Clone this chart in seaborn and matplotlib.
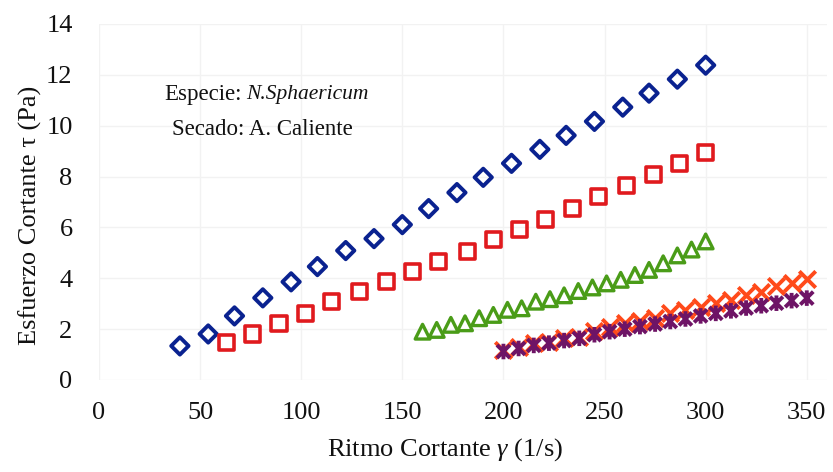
import matplotlib
matplotlib.use("Agg")
import matplotlib.pyplot as plt
from matplotlib.path import Path
import pandas as pd
import seaborn as sns

# Shear rate (1/s) and shear stress (Pa) for each measured run
rate_diamond = [40, 54, 67, 81, 95, 108, 122, 136, 150, 163, 177, 190, 204, 218,
                231, 245, 259, 272, 286, 300]
stress_diamond = [1.34, 1.81, 2.52, 3.23, 3.86, 4.46, 5.09, 5.56, 6.11, 6.74, 7.37,
                  7.97, 8.52, 9.07, 9.62, 10.17, 10.73, 11.28, 11.83, 12.38]

rate_square = [63, 76, 89, 102, 115, 129, 142, 155, 168, 182, 195, 208, 221, 234,
               247, 261, 274, 287, 300]
stress_square = [1.46, 1.81, 2.21, 2.60, 3.08, 3.47, 3.86, 4.26, 4.65, 5.05, 5.52,
                 5.91, 6.31, 6.74, 7.22, 7.65, 8.08, 8.52, 8.95]

rate_triangle = [160, 167, 174, 181, 188, 195, 202, 209, 216, 223, 230, 237, 244,
                 251, 258, 265, 272, 279, 286, 293, 300]
stress_triangle = [1.90, 1.97, 2.17, 2.23, 2.43, 2.56, 2.76, 2.82, 3.08, 3.18, 3.33,
                   3.50, 3.64, 3.80, 3.94, 4.13, 4.33, 4.59, 4.90, 5.13, 5.45]

rate_cross = [200, 207.5, 215, 222.5, 230, 237.5, 245, 252.5, 260, 267.5, 275,
              282.5, 290, 297.5, 305, 312.5, 320, 327.5, 335, 342.5, 350]
stress_cross = [1.18, 1.31, 1.45, 1.51, 1.65, 1.71, 1.91, 2.10, 2.24, 2.31, 2.45,
                2.62, 2.76, 2.89, 3.02, 3.15, 3.35, 3.48, 3.68, 3.81, 3.96]

rate_star = [200, 207.5, 215, 222.5, 230, 237.5, 245, 252.5, 260, 267.5, 275,
             282.5, 290, 297.5, 305, 312.5, 320, 327.5, 335, 342.5, 350]
stress_star = [1.12, 1.24, 1.36, 1.45, 1.55, 1.64, 1.78, 1.90, 2.00, 2.10, 2.20,
               2.30, 2.40, 2.52, 2.62, 2.72, 2.83, 2.92, 3.02, 3.12, 3.22]

x_ticks = [0, 50, 100, 150, 200, 250, 300, 350]
y_ticks = [0, 2, 4, 6, 8, 10, 12, 14]

# Excel-style star: an X crossed by a vertical bar
star_marker = Path(
    [(-1, -1), (1, 1), (-1, 1), (1, -1), (0, -1.2), (0, 1.2)],
    [Path.MOVETO, Path.LINETO, Path.MOVETO, Path.LINETO, Path.MOVETO, Path.LINETO],
)

series = [
    ("diamond", rate_diamond, stress_diamond, "D", "#0a2290", 78, 2.8, True),
    ("square", rate_square, stress_square, "s", "#e01a1e", 118, 2.6, True),
    ("triangle", rate_triangle, stress_triangle, "^", "#4a9c18", 112, 2.4, True),
    ("cross", rate_cross, stress_cross, "x", "#ff4a1a", 140, 2.8, False),
    ("star", rate_star, stress_star, star_marker, "#6e1466", 125, 2.8, True),
]

sns.set_style("white")
plt.rcParams["font.family"] = ["Liberation Serif", "DejaVu Serif"]
plt.rcParams["mathtext.fontset"] = "custom"
plt.rcParams["mathtext.rm"] = "Liberation Serif"
plt.rcParams["mathtext.it"] = "Liberation Serif:italic"

fig = plt.figure(figsize=(8.33, 4.72), dpi=100)
ax = fig.add_axes([99 / 833, 92 / 472, 728 / 833, 356 / 472])

frames = []
for name, xs, ys, *_ in series:
    frames.append(pd.DataFrame({"run": name, "rate": xs, "stress": ys}))
df = pd.concat(frames, ignore_index=True)

for name, _, _, marker, color, size, lw, hollow in series:
    sub = df[df["run"] == name]
    if hollow:
        sns.scatterplot(data=sub, x="rate", y="stress", ax=ax, marker=marker, s=size,
                        facecolors="none", edgecolor=color, linewidth=lw,
                        legend=False, zorder=3)
    else:
        sns.scatterplot(data=sub, x="rate", y="stress", ax=ax, marker=marker, s=size,
                        color=color, linewidth=lw, legend=False, zorder=3)

ax.set_xlim(0, 360)
ax.set_ylim(0, 14)
ax.set_xticks(x_ticks)
ax.set_yticks(y_ticks)
ax.grid(True, color="#f2f2f2", linewidth=1)
for side in ax.spines.values():
    side.set_visible(False)
ax.tick_params(axis="both", length=0, labelsize=19, colors="#111111")
ax.tick_params(axis="x", pad=16)
ax.tick_params(axis="y", pad=19)

ax.set_xlabel(r"Ritmo Cortante $\gamma$ (1/s)", fontsize=19, color="#111111")
ax.set_ylabel("Esfuerzo Cortante τ (Pa)", fontsize=19, color="#111111")
ax.xaxis.label.set_va("center")
ax.yaxis.label.set_va("center")
ax.xaxis.set_label_coords((445 - 99) / 728, -(450 - 380) / 356)
ax.yaxis.set_label_coords((30 - 99) / 728, (380 - 215) / 356)

# Sample description
ax.text(70.5, 11.24, "Especie:", ha="right", va="center", fontsize=16.5,
        color="#111111")
ax.text(73.0, 11.24, "N.Sphaericum", ha="left", va="center", fontsize=15.5,
        fontstyle="italic", color="#111111")
ax.text(81, 9.86, "Secado: A. Caliente", ha="center", va="center",
        fontsize=16.5, color="#111111")

fig.savefig("out.png", dpi=100, facecolor="white")
